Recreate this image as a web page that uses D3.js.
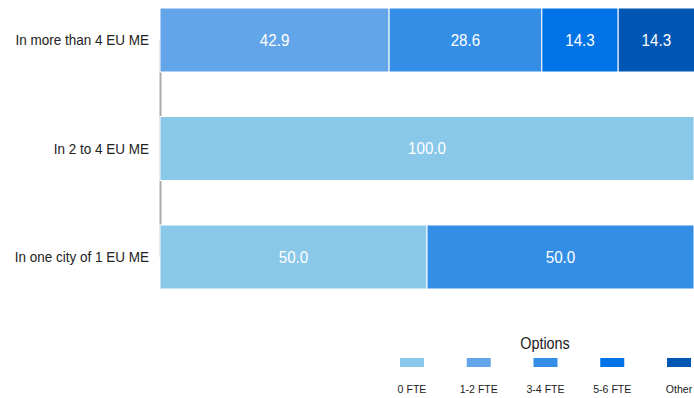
<!DOCTYPE html>
<html><head><meta charset="utf-8">
<script src="https://cdn.jsdelivr.net/npm/d3@7"></script>
<style>body{margin:0;background:#fff}svg{display:block;font-family:"Liberation Sans",Arial,sans-serif}</style>
</head><body><svg id="c" width="694" height="398"></svg>
<script>
const categories = ["In more than 4 EU ME", "In 2 to 4 EU ME", "In one city of 1 EU ME"];
const options = ["0 FTE", "1-2 FTE", "3-4 FTE", "5-6 FTE", "Other"];
const colors = ["#89C8E8", "#62A5E8", "#348EE6", "#0073E6", "#0057B3"];
const v0FTE = [0, 100.0, 50.0];
const v12FTE = [42.9, 0, 0];
const v34FTE = [28.6, 0, 50.0];
const v56FTE = [14.3, 0, 0];
const vOther = [14.3, 0, 0];
const series = [v0FTE, v12FTE, v34FTE, v56FTE, vOther];

const svg = d3.select("#c");
const x = d3.scaleLinear().domain([0, 100]).range([160, 694]);
const y = d3.scaleBand().domain(categories).range([8, 289]).paddingInner(0.41).paddingOuter(0);

const rows = categories.map((c, i) => {
  let acc = 0;
  return series.map((s, k) => { const r = {cat: c, k, v: s[i], x0: acc}; acc += s[i]; return r; }).filter(d => d.v > 0);
}).flat();

svg.append("line").attr("x1", 160.5).attr("x2", 160.5)
  .attr("y1", y(categories[0]) + y.bandwidth()/2)
  .attr("y2", y(categories[2]) + y.bandwidth()/2)
  .attr("stroke", "#aaa").attr("stroke-width", 2);

svg.selectAll("rect.bar").data(rows).join("rect").attr("class", "bar")
  .attr("x", d => x(d.x0)).attr("width", d => x(d.x0 + d.v) - x(d.x0))
  .attr("y", d => y(d.cat)).attr("height", y.bandwidth())
  .attr("fill", d => colors[d.k]).attr("stroke", "#fff").attr("stroke-width", 1);

svg.selectAll("text.val").data(rows).join("text").attr("class", "val")
  .attr("transform", d => `translate(${x(d.x0 + d.v/2)},${y(d.cat) + y.bandwidth()/2}) scale(0.95,1)`)
  .attr("text-anchor", "middle").attr("dominant-baseline", "central")
  .attr("fill", "#fff").attr("font-size", 16).text(d => d.v.toFixed(1));

svg.selectAll("text.cat").data(categories).join("text").attr("class", "cat")
  .attr("transform", d => `translate(149,${y(d) + y.bandwidth()/2}) scale(0.9,1)`)
  .attr("text-anchor", "end").attr("dominant-baseline", "central")
  .attr("fill", "#222").attr("font-size", 15).text(d => d);

const lx = d3.scalePoint().domain(options).range([412, 679]);
svg.append("text").attr("transform", "translate(545,349) scale(0.9,1)").attr("text-anchor", "middle")
  .attr("font-size", 16).attr("fill", "#222").text("Options");
svg.selectAll("rect.sw").data(options).join("rect").attr("class", "sw")
  .attr("x", d => lx(d) - 12).attr("y", 358).attr("width", 24).attr("height", 9)
  .attr("fill", (d, i) => colors[i]);
svg.selectAll("text.lg").data(options).join("text").attr("class", "lg")
  .attr("transform", d => `translate(${lx(d)},393) scale(0.92,1)`).attr("text-anchor", "middle")
  .attr("font-size", 11.5).attr("fill", "#222").text(d => d);
</script></body></html>
